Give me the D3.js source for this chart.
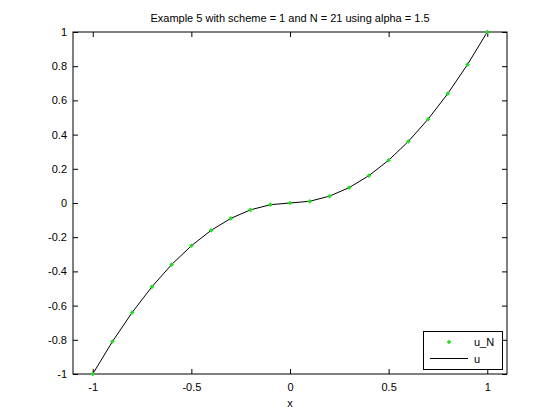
<!DOCTYPE html>
<html><head><meta charset="utf-8">
<script src="https://cdn.jsdelivr.net/npm/d3@7"></script>
<style>body{margin:0;background:#fff}svg{display:block}text{font-family:"Liberation Sans",Arial,sans-serif}</style>
</head><body>
<script>
const xs = [-1,-0.9,-0.8,-0.7,-0.6,-0.5,-0.4,-0.3,-0.2,-0.1,0,0.1,0.2,0.3,0.4,0.5,0.6,0.7,0.8,0.9,1];
const uN = [-1,-0.81,-0.64,-0.49,-0.36,-0.25,-0.16,-0.09,-0.04,-0.01,0,0.01,0.04,0.09,0.16,0.25,0.36,0.49,0.64,0.81,1];
const u  = [-1,-0.81,-0.64,-0.49,-0.36,-0.25,-0.16,-0.09,-0.04,-0.01,0,0.01,0.04,0.09,0.16,0.25,0.36,0.49,0.64,0.81,1];
const xTicks = [-1,-0.5,0,0.5,1];
const yTicks = [-1,-0.8,-0.6,-0.4,-0.2,0,0.2,0.4,0.6,0.8,1];
const title = "Example 5 with scheme = 1 and N = 21 using alpha = 1.5";
const xLabel = "x";
const legendLabels = ["u_N","u"];

const W=560,H=420, L=73, R=507, T=32, B=374;
const svg=d3.select("body").append("svg").attr("width",W).attr("height",H);
const x=d3.scaleLinear().domain([-1.1,1.1]).range([L,R]);
const y=d3.scaleLinear().domain([-1,1]).range([B,T]);
const fmt=d=>String(d);

function ax(g){g.selectAll(".domain").remove();g.selectAll("text").attr("font-size",11).attr("fill","#000");g.selectAll("line").attr("stroke","#000");}
svg.append("g").attr("transform",`translate(0,${B})`).call(d3.axisBottom(x).tickValues(xTicks).tickSize(-5).tickPadding(9).tickFormat(fmt)).call(ax);
svg.append("g").attr("transform",`translate(0,${T})`).call(d3.axisTop(x).tickValues(xTicks).tickSize(-5).tickFormat("")).call(ax);
svg.append("g").attr("transform",`translate(${L},0)`).call(d3.axisLeft(y).tickValues(yTicks).tickSize(-5).tickPadding(6).tickFormat(fmt)).call(ax);
svg.append("g").attr("transform",`translate(${R},0)`).call(d3.axisRight(y).tickValues(yTicks).tickSize(-5).tickFormat("")).call(ax);
svg.append("rect").attr("x",L).attr("y",T).attr("width",R-L).attr("height",B-T).attr("fill","none").attr("stroke","#000").attr("stroke-width",1);

const line=d3.line().x((d,i)=>x(xs[i])).y(d=>y(d));
svg.append("path").datum(u).attr("d",line).attr("fill","none").attr("stroke","#000").attr("stroke-width",1);
const diamond=d3.symbol().type(d3.symbolDiamond2).size(14);
svg.append("g").selectAll("path").data(uN).join("path")
  .attr("transform",(d,i)=>`translate(${x(xs[i])},${y(d)})`).attr("d",diamond).attr("fill","#22dd22");

svg.append("text").attr("x",(L+R)/2).attr("y",22).attr("text-anchor","middle").attr("font-size",11).text(title);
svg.append("text").attr("x",(L+R)/2).attr("y",407).attr("text-anchor","middle").attr("font-size",11).text(xLabel);

const lg=svg.append("g");
lg.append("rect").attr("x",423.5).attr("y",331.5).attr("width",79).attr("height",38).attr("fill","#fff").attr("stroke","#000");
lg.append("path").attr("transform","translate(449,342)").attr("d",diamond).attr("fill","#22dd22");
lg.append("line").attr("x1",430).attr("x2",468).attr("y1",358.5).attr("y2",358.5).attr("stroke","#000");
lg.selectAll("text.l").data(legendLabels).join("text").attr("x",474).attr("y",(d,i)=>346+i*17).attr("font-size",11).text(d=>d);
</script>
</body></html>
